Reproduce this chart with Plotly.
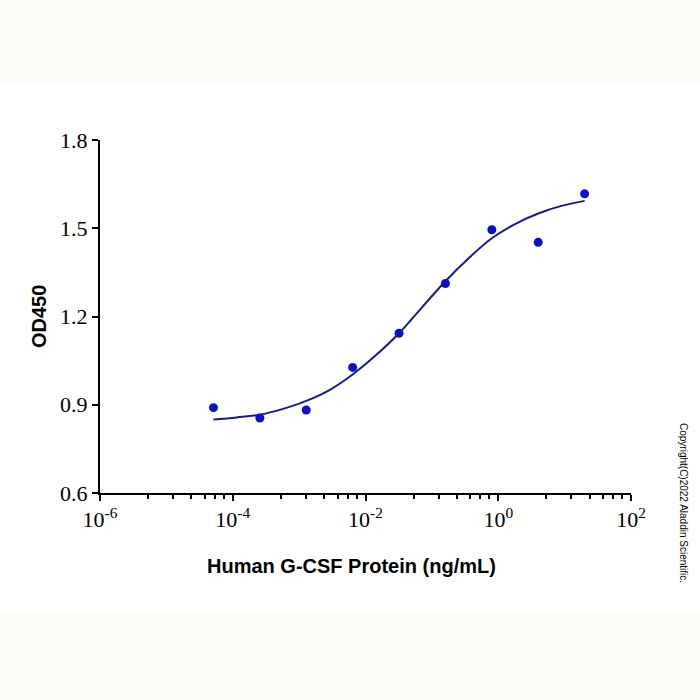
import plotly.graph_objects as go

# Data
conc = [0.0000512, 0.000256, 0.00128, 0.0064, 0.032, 0.16, 0.8, 4.0, 20.0]
od450 = [0.890, 0.855, 0.882, 1.027, 1.143, 1.312, 1.495, 1.452, 1.617]

# Fitted curve (points along the drawn line)
curve_x = [0.0000512, 0.0001145, 0.000256, 0.000572, 0.00128, 0.00286, 0.0064,
           0.0143, 0.032, 0.0716, 0.16, 0.358, 0.8, 1.79, 4.0, 8.94, 20.0]
curve_y = [0.850, 0.857, 0.866, 0.886, 0.913, 0.950, 1.003,
           1.068, 1.143, 1.232, 1.320, 1.398, 1.466, 1.514, 1.550, 1.576, 1.593]

y_ticks = [0.6, 0.9, 1.2, 1.5, 1.8]
y_ticktext = ["0.6", "0.9", "1.2", "1.5", "1.8"]
x_ticks = [1e-6, 1e-4, 1e-2, 1e0, 1e2]
x_ticktext = ["10<sup>-6</sup>", "10<sup>-4</sup>", "10<sup>-2</sup>", "10<sup>0</sup>", "10<sup>2</sup>"]
minor_offsets = [0.724, 1.102, 1.378, 1.58, 1.732, 1.866]
minor_vals = [10 ** (e + o) for e in (-6, -4, -2, 0) for o in minor_offsets]

fig = go.Figure()
fig.add_trace(go.Scatter(
    x=curve_x, y=curve_y, mode="lines",
    line=dict(color="#1a1a8c", width=2, shape="spline", smoothing=1.0),
    hoverinfo="skip", showlegend=False))
fig.add_trace(go.Scatter(
    x=conc, y=od450, mode="markers",
    marker=dict(color="#0c10c4", size=9),
    showlegend=False))

fig.update_layout(
    width=700, height=700,
    margin=dict(l=100, r=69, t=140, b=207, pad=0),
    paper_bgcolor="#fbfcf7",
    plot_bgcolor="white",
    showlegend=False,
    shapes=[dict(type="rect", xref="paper", yref="paper",
                 x0=-0.2, x1=1.14, y0=-0.34, y1=1.156,
                 fillcolor="white", line=dict(width=0), layer="below")],
    xaxis=dict(
        type="log", range=[-6, 2],
        tickmode="array", tickvals=x_ticks, ticktext=x_ticktext,
        showgrid=False, zeroline=False,
        showline=True, linecolor="black", linewidth=2,
        ticks="outside", ticklen=6, tickwidth=2, tickcolor="black",
        tickfont=dict(family="Liberation Serif", size=22, color="black"),
        minor=dict(tickmode="array", tickvals=minor_vals, ticks="outside",
                   ticklen=4, tickwidth=1.5, tickcolor="black", showgrid=False),
    ),
    yaxis=dict(
        range=[0.6, 1.8],
        tickmode="array", tickvals=y_ticks, ticktext=y_ticktext,
        showgrid=False, zeroline=False,
        showline=True, linecolor="black", linewidth=2,
        ticks="outside", ticklen=6, tickwidth=2, tickcolor="black",
        tickfont=dict(family="Liberation Serif", size=22, color="black"),
    ),
    annotations=[
        dict(text="<b>Human G-CSF Protein (ng/mL)</b>",
             xref="paper", yref="paper",
             x=(351 - 100) / 531, y=(493 - 566) / 353,
             xanchor="center", yanchor="middle", showarrow=False,
             font=dict(family="Liberation Sans", size=20, color="black")),
        dict(text="<b>OD450</b>",
             xref="paper", yref="paper",
             x=(39 - 100) / 531, y=(493 - 317) / 353,
             xanchor="center", yanchor="middle", textangle=-90, showarrow=False,
             font=dict(family="Liberation Sans", size=20, color="black")),
        dict(text="Copyright(C)2022 Aladdin Scientific.",
             xref="paper", yref="paper",
             x=(684 - 100) / 531, y=(493 - 503) / 353,
             xanchor="center", yanchor="middle",
             textangle=90, showarrow=False,
             font=dict(family="Liberation Sans", size=10, color="black")),
    ],
)

fig.write_html("out.html")
